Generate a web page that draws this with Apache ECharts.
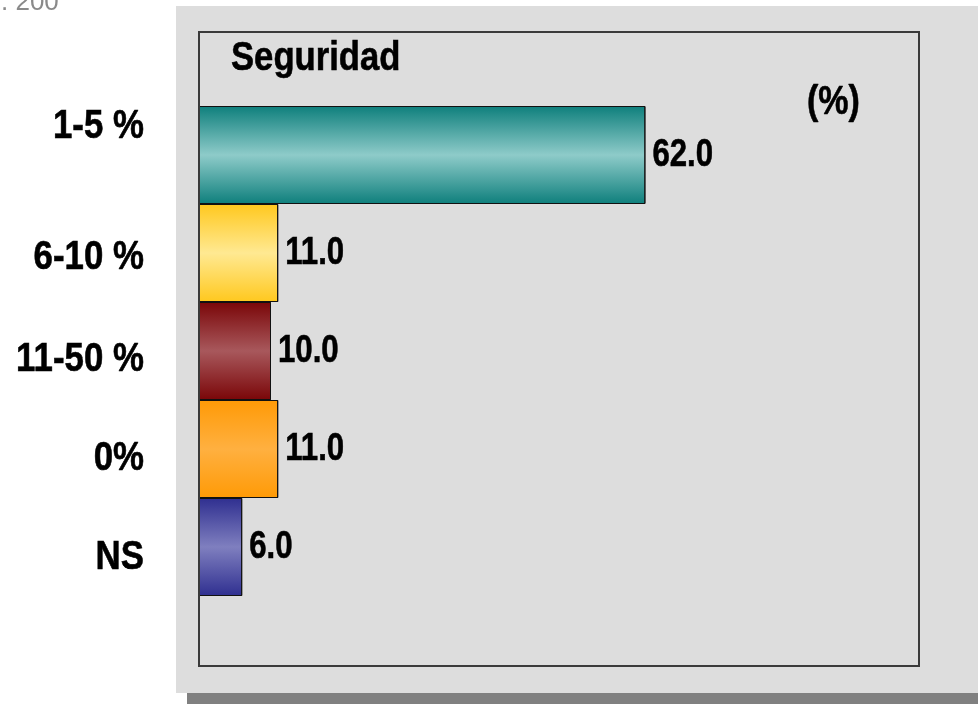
<!DOCTYPE html>
<html>
<head>
<meta charset="utf-8">
<script src="https://cdn.jsdelivr.net/npm/echarts@6/dist/echarts.min.js"></script>
<style>
html,body{margin:0;padding:0;background:#fff;}
#chart{width:978px;height:704px;}
</style>
</head>
<body>
<div id="chart"></div>
<script>
var categories = ['1-5 %', '6-10 %', '11-50 %', '0%', 'NS'];
var values = [62.0, 11.0, 10.0, 11.0, 6.0];
var xTicks = [0, 100];
var titleText = 'Seguridad';
var unitText = '(%)';
var cornerText = '. 200';

var gradients = [
  ['#0e7f7c', '#8ecbc9'],
  ['#ffc81e', '#ffe992'],
  ['#7a0608', '#a8585c'],
  ['#ff9a06', '#ffb040'],
  ['#2f2f90', '#7f7fbf']
];
// per-label vertical nudges of category labels (pixels, style only)
var catLabelNudge = [-28, 5, 9, 10, 11];
var FONT = '"Liberation Sans", Arial, sans-serif';

function grad(c) {
  return new echarts.graphic.LinearGradient(0, 0, 0, 1, [
    {offset: 0, color: c[0]},
    {offset: 0.5, color: c[1]},
    {offset: 1, color: c[0]}
  ]);
}

var chart = echarts.init(document.getElementById('chart'), null, {renderer: 'canvas'});
chart.setOption({
  animation: false,
  backgroundColor: '#ffffff',
  grid: {left: 199, width: 720, top: 106, height: 490, show: false},
  xAxis: {type: 'value', min: xTicks[0], max: xTicks[1], show: false},
  yAxis: {
    type: 'category', data: categories, inverse: true,
    axisLine: {show: false}, axisTick: {show: false}, splitLine: {show: false},
    axisLabel: {show: false}
  },
  series: [{
    type: 'bar',
    barCategoryGap: '0%',
    data: values.map(function (v, i) {
      return {value: v, itemStyle: {color: grad(gradients[i])}};
    }),
    itemStyle: {borderColor: '#111', borderWidth: 1},
    label: {show: false}
  }]
});

function condensedText(x, y, text, size, sx, align) {
  return {
    type: 'text', z: 20, x: x, y: y, scaleX: sx, scaleY: 1,
    style: {
      x: 0, y: 0, text: text, align: align || 'left', verticalAlign: 'middle',
      fontFamily: FONT, fontWeight: 'bold', fontSize: size, fill: '#000',
      stroke: '#000', lineWidth: 0.6
    }
  };
}

var g = [
  {type: 'rect', z: -10, shape: {x: 187, y: 693, width: 791, height: 11}, style: {fill: '#808080'}},
  {type: 'rect', z: -10, shape: {x: 176, y: 6, width: 802, height: 687}, style: {fill: '#dddddd'}},
  {type: 'rect', z: 10, shape: {x: 199, y: 32, width: 720, height: 634}, style: {fill: 'none', stroke: '#3a3a3a', lineWidth: 2}},
  condensedText(231, 59, titleText, 41, 0.845, 'left'),
  condensedText(807, 103, unitText, 41, 0.83, 'left'),
  {type: 'text', z: 20, x: 1, y: 3, style: {x: 0, y: 0, text: cornerText, align: 'left', verticalAlign: 'middle',
    fontFamily: FONT, fontSize: 26, fill: '#8a8a8a'}}
];
categories.forEach(function (c, i) {
  var p = chart.convertToPixel({gridIndex: 0}, [0, i]);
  g.push(condensedText(144, p[1] + catLabelNudge[i], c, 41, 0.85, 'right'));
});
values.forEach(function (v, i) {
  var p = chart.convertToPixel({gridIndex: 0}, [v, i]);
  g.push(condensedText(p[0] + 7, p[1], v.toFixed(1), 39, 0.8, 'left'));
});
chart.setOption({graphic: g});
</script>
</body>
</html>
